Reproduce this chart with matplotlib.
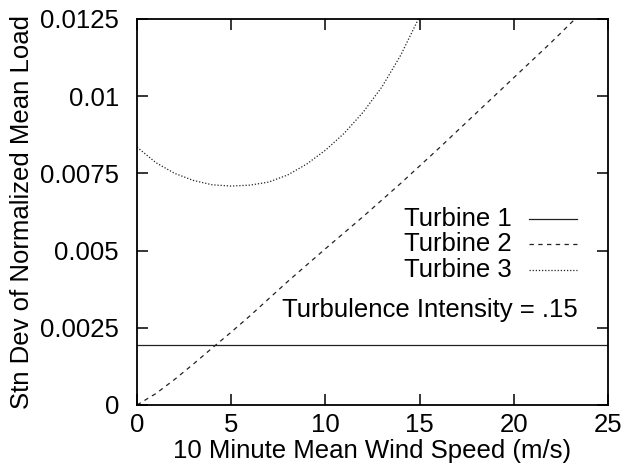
import matplotlib
matplotlib.use("Agg")
import matplotlib.pyplot as plt

plt.rcParams['font.family'] = ['Liberation Sans', 'DejaVu Sans']

# Data
t1_x = [0, 25]
t1_y = [0.00194, 0.00194]

t2_x = [0, 1, 2, 3, 4, 5, 6, 8, 10, 12, 14, 16, 18, 20, 22, 24]
t2_y = [0.0, 0.00037, 0.00083, 0.00133, 0.00185, 0.00236, 0.00289,
        0.00400, 0.00506, 0.00610, 0.00718, 0.00830, 0.00945, 0.01060,
        0.01175, 0.01295]

t3_x = [0, 1, 2, 3, 4, 5, 6, 7, 8, 9, 10, 11, 12, 13, 14, 15]
t3_y = [0.00835, 0.00785, 0.00750, 0.00727, 0.00713, 0.00709, 0.00712,
        0.00722, 0.00745, 0.00780, 0.00825, 0.00880, 0.00948, 0.01030,
        0.01133, 0.01258]

labels = ["Turbine 1", "Turbine 2", "Turbine 3"]
xticks = [0, 5, 10, 15, 20, 25]
yticks = [0, 0.0025, 0.005, 0.0075, 0.01, 0.0125]
ytick_labels = ["0", "0.0025", "0.005", "0.0075", "0.01", "0.0125"]

fig = plt.figure(figsize=(6.32, 4.75), dpi=100)
ax = fig.add_axes([137/632, 1-405/475, (608-137)/632, (405-19)/475])

lc = '#222222'
styles = ['-', (0, (3.5, 3.5)), (0, (1, 1.5))]
series = [(t1_x, t1_y), (t2_x, t2_y), (t3_x, t3_y)]
for (xs, ys), st in zip(series, styles):
    ax.plot(xs, ys, color=lc, lw=0.9, ls=st)

ax.set_xlim(0, 25)
ax.set_ylim(0, 0.0125)
ax.set_xticks(xticks)
ax.set_xticklabels([str(v) for v in xticks])
ax.set_yticks(yticks)
ax.set_yticklabels(ytick_labels)

fs = 18.5
ax.tick_params(direction='in', length=8, width=1.1, top=True, right=True,
               labelsize=fs, colors='black')
ax.tick_params(axis='x', pad=6)
ax.tick_params(axis='y', pad=13)
for s in ax.spines.values():
    s.set_linewidth(1.3)

ax.set_xlabel("10 Minute Mean Wind Speed (m/s)", fontsize=fs, labelpad=1)
ax.set_ylabel("Stn Dev of Normalized Mean Load", fontsize=fs, labelpad=4)

# legend (manual, gnuplot style: text then sample on the right)
row_y = [0.482, 0.417, 0.350]
for lab, st, yy in zip(labels, styles, row_y):
    ax.text(0.796, yy, lab, fontsize=fs, ha='right', va='center',
            transform=ax.transAxes)
    ax.plot([0.832, 0.934], [yy, yy], color=lc, lw=0.9, ls=st,
            transform=ax.transAxes)

ax.text(0.936, 0.246, "Turbulence Intensity = .15", fontsize=fs,
        ha='right', va='center', transform=ax.transAxes)

fig.savefig("out.png", dpi=100)
